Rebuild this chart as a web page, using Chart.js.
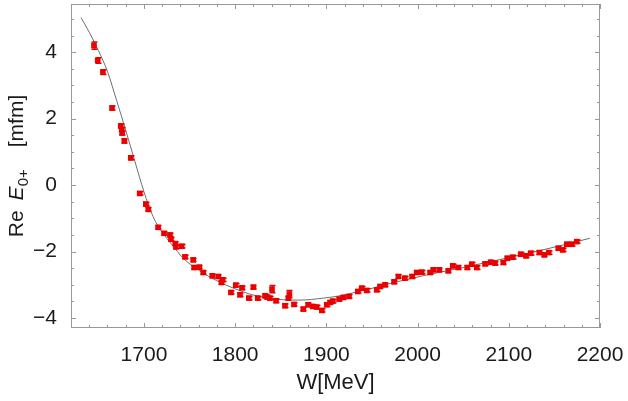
<!DOCTYPE html>
<html>
<head>
<meta charset="utf-8">
<script src="https://cdn.jsdelivr.net/npm/chart.js@4/dist/chart.umd.min.js"></script>
<style>
  html, body { margin: 0; padding: 0; background: #fff; }
  #wrap { width: 628px; height: 401px; }
</style>
</head>
<body>
<div id="wrap"><canvas id="mycanvas" width="628" height="401"></canvas></div>
<script>
// measured points (W in MeV, Re E0+ in mfm, error)
var wData = [1645.2, 1649.3, 1655, 1665, 1674.5, 1675.6, 1676, 1678.5, 1685.5, 1695.3,
  1702, 1704.8, 1715.5, 1722, 1728.5, 1729.6, 1734.4, 1735, 1741.4, 1745,
  1754, 1755, 1760.7, 1765, 1775, 1781.5, 1785, 1786.3, 1795.4, 1800.6,
  1805.3, 1807.5, 1815, 1820, 1824.7, 1832.7, 1835, 1838, 1840.4, 1844.8,
  1854.6, 1858.3, 1859.4, 1864.5, 1874.7, 1880, 1885, 1889.4, 1895, 1900.4,
  1904, 1907, 1914, 1918.6, 1924.8, 1934.4, 1938.7, 1944.2, 1955.2, 1958.8,
  1964.3, 1974.2, 1979, 1986, 1994, 1999, 2004.5, 2013.7, 2017.3, 2023.8,
  2033.7, 2038.5, 2044.7, 2054.5, 2059.4, 2064.9, 2074, 2080.2, 2084.9, 2094,
  2098.4, 2104.3, 2113, 2118.9, 2124, 2133.5, 2139, 2143.8, 2154.3, 2159.1,
  2163.5, 2169, 2174.5];
var reData = [4.2, 3.75, 3.4, 2.32, 1.78, 1.67, 1.57, 1.33, 0.82, -0.25,
  -0.57, -0.73, -1.27, -1.45, -1.5, -1.63, -1.76, -1.86, -1.84, -2.16,
  -2.25, -2.48, -2.47, -2.63, -2.73, -2.75, -2.93, -2.85, -3.23, -3.01,
  -3.3, -3.09, -3.4, -3.07, -3.4, -3.33, -3.37, -3.4, -3.13, -3.48,
  -3.63, -3.4, -3.28, -3.59, -3.73, -3.6, -3.65, -3.67, -3.77, -3.6,
  -3.53, -3.49, -3.43, -3.38, -3.35, -3.2, -3.1, -3.17, -3.15, -3.05,
  -3.0, -2.91, -2.75, -2.8, -2.75, -2.63, -2.62, -2.63, -2.55, -2.55,
  -2.58, -2.43, -2.48, -2.48, -2.38, -2.48, -2.37, -2.32, -2.35, -2.33,
  -2.2, -2.17, -2.08, -2.13, -2.05, -2.03, -2.1, -2.03, -1.9, -1.95,
  -1.78, -1.78, -1.7];
var errData = [0.11, 0.08, 0.07, 0.06, 0.06, 0.06, 0.06, 0.06, 0.06, 0.05,
  0.05, 0.05, 0.05, 0.05, 0.05, 0.05, 0.05, 0.05, 0.05, 0.05,
  0.05, 0.05, 0.05, 0.05, 0.05, 0.05, 0.05, 0.05, 0.05, 0.05,
  0.05, 0.05, 0.05, 0.05, 0.05, 0.05, 0.05, 0.05, 0.11, 0.05,
  0.05, 0.05, 0.11, 0.05, 0.05, 0.05, 0.05, 0.05, 0.05, 0.05,
  0.05, 0.05, 0.05, 0.05, 0.05, 0.05, 0.05, 0.05, 0.05, 0.05,
  0.05, 0.05, 0.05, 0.05, 0.05, 0.05, 0.05, 0.05, 0.05, 0.05,
  0.05, 0.05, 0.05, 0.05, 0.05, 0.05, 0.05, 0.05, 0.05, 0.05,
  0.05, 0.05, 0.05, 0.05, 0.05, 0.05, 0.05, 0.05, 0.05, 0.05,
  0.05, 0.05, 0.05];

// fit curve
var wFit = [1631, 1640, 1650, 1660, 1670, 1680, 1690, 1700, 1710, 1720,
  1730, 1743, 1754, 1765, 1780, 1798, 1816, 1835, 1853, 1871,
  1897, 1915, 1933, 1951, 1970, 1988, 2014, 2050, 2087, 2123, 2160, 2189];
var reFit = [5.04, 4.6, 4.05, 3.42, 2.55, 1.65, 0.72, -0.2, -0.95, -1.42,
  -1.77, -2.2, -2.45, -2.65, -2.88, -3.1, -3.28, -3.4, -3.45, -3.46,
  -3.4, -3.33, -3.22, -3.1, -2.96, -2.84, -2.68, -2.48, -2.26, -2.04, -1.8, -1.6];

var xTicks = [1700, 1800, 1900, 2000, 2100, 2200];
var yTicks = [-4, -2, 0, 2, 4];

var pts = [];
for (var i in wData) {
  pts.push({x: wData[i], y: reData[i]});
}
var fit = [];
for (var j in wFit) {
  fit.push({x: wFit[j], y: reFit[j]});
}

var frameColor = '#999999';
var fontFam = '"Liberation Sans", Arial, sans-serif';

// frame + inward ticks on all four sides, error bars, axis titles
var framePlugin = {
  id: 'frame',
  afterDatasetsDraw: function(chart) {
    var ctx = chart.ctx;
    var xs = chart.scales.x, ys = chart.scales.y;
    ctx.save();
    ctx.strokeStyle = 'rgba(230,0,0,1)';
    ctx.lineWidth = 1.5;
    for (var i = 0; i < wData.length; i++) {
      var px = Math.round(xs.getPixelForValue(wData[i])) + 0.5;
      var top = ys.getPixelForValue(reData[i] + errData[i]);
      var bot = ys.getPixelForValue(reData[i] - errData[i]);
      ctx.beginPath();
      ctx.moveTo(px, top); ctx.lineTo(px, bot);
      ctx.moveTo(px - 3, top); ctx.lineTo(px + 3, top);
      ctx.moveTo(px - 3, bot); ctx.lineTo(px + 3, bot);
      ctx.stroke();
    }
    ctx.restore();
  },
  afterDraw: function(chart) {
    var ctx = chart.ctx;
    var a = chart.chartArea;
    var xs = chart.scales.x, ys = chart.scales.y;
    ctx.save();
    ctx.strokeStyle = frameColor;
    ctx.lineWidth = 1;
    ctx.strokeRect(a.left + 0.5, a.top + 0.5, a.right - a.left - 1, a.bottom - a.top - 1);
    ctx.beginPath();
    for (var w = 1620; w <= 2200; w += 20) {
      var len = (w % 100 === 0) ? 5 : 3;
      var px = Math.round(xs.getPixelForValue(w)) + 0.5;
      ctx.moveTo(px, a.bottom); ctx.lineTo(px, a.bottom - len);
      ctx.moveTo(px, a.top); ctx.lineTo(px, a.top + len);
    }
    for (var k = -8; k <= 10; k++) {
      var v = k / 2;
      var l2 = (k % 4 === 0) ? 5 : 3;
      var py = Math.round(ys.getPixelForValue(v)) + 0.5;
      ctx.moveTo(a.left, py); ctx.lineTo(a.left + l2, py);
      ctx.moveTo(a.right, py); ctx.lineTo(a.right - l2, py);
    }
    ctx.stroke();

    // axis titles
    ctx.fillStyle = '#1a1a1a';
    ctx.textBaseline = 'alphabetic';
    ctx.font = '22px ' + fontFam;
    ctx.textAlign = 'center';
    ctx.fillText('W[MeV]', (a.left + a.right) / 2, 389);

    ctx.translate(23, 166);
    ctx.rotate(-Math.PI / 2);
    ctx.textAlign = 'left';
    var reg = '21px ' + fontFam;
    var ita = 'italic 21px ' + fontFam;
    var sub = '15px ' + fontFam;
    // [font, text, baseline shift, extra gap after]
    var parts = [[reg, 'Re', 0, 10], [ita, 'E', 0, 0], [sub, '0+', 5, 22], [reg, '[mfm]', 0, 0]];
    var total = 0;
    parts.forEach(function(p) { ctx.font = p[0]; total += ctx.measureText(p[1]).width + p[3]; });
    var x0 = -total / 2;
    parts.forEach(function(p) {
      ctx.font = p[0];
      ctx.fillText(p[1], x0, p[2]);
      x0 += ctx.measureText(p[1]).width + p[3];
    });
    ctx.restore();
  }
};

var ctx = document.getElementById('mycanvas');
var chart = new Chart(ctx, {
  type: 'scatter',
  data: {
    datasets: [
      {
        label: 'data',
        data: pts,
        order: 0,
        pointStyle: 'rect',
        pointRadius: 4,
        pointBackgroundColor: 'rgba(240,0,0,1)',
        pointBorderWidth: 0,
        showLine: false
      },
      {
        label: 'fit',
        data: fit,
        order: 1,
        showLine: true,
        pointRadius: 0,
        borderColor: '#6e6e6e',
        borderWidth: 1,
        cubicInterpolationMode: 'monotone',
        fill: false
      }
    ]
  },
  options: {
    responsive: false,
    animation: false,
    events: [],
    layout: { padding: { top: 2, right: 28, left: 0, bottom: 0 } },
    plugins: {
      legend: { display: false },
      tooltip: { enabled: false }
    },
    scales: {
      x: {
        type: 'linear',
        min: 1620,
        max: 2200,
        grid: { display: false },
        border: { display: false },
        afterBuildTicks: function(s) { s.ticks = xTicks.map(function(v) { return {value: v}; }); },
        afterFit: function(s) { s.height = 73; s.paddingLeft = 0; s.paddingRight = 0; },
        ticks: {
          padding: 7,
          color: '#1a1a1a',
          font: { family: fontFam, size: 21 },
          maxRotation: 0,
          callback: function(v) { return String(v); }
        }
      },
      y: {
        type: 'linear',
        min: -4.3,
        max: 5.45,
        grid: { display: false },
        border: { display: false },
        afterBuildTicks: function(s) { s.ticks = yTicks.map(function(v) { return {value: v}; }); },
        afterFit: function(s) { s.width = 71; s.paddingTop = 0; s.paddingBottom = 0; },
        ticks: {
          padding: 6,
          color: '#1a1a1a',
          font: { family: fontFam, size: 21 },
          callback: function(v) { return String(v).replace('-', '\u2212'); }
        }
      }
    }
  },
  plugins: [framePlugin]
});
</script>
</body>
</html>
